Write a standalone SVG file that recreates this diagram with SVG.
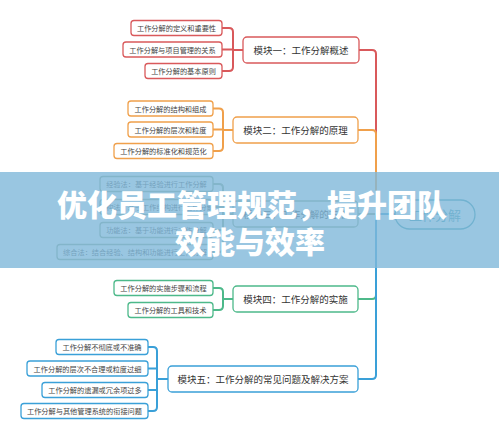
<svg xmlns="http://www.w3.org/2000/svg" width="499" height="440" viewBox="0 0 499 440">
<style>
.leaf rect{fill:#fff;stroke-width:1.3}
.leaf text{font-family:"Noto Sans CJK SC",sans-serif;font-size:7.2px;fill:#444;text-anchor:middle;dominant-baseline:central}
.mod rect{fill:#fff;stroke-width:1.3}
.mod text{font-family:"Noto Sans CJK SC",sans-serif;font-size:9.5px;fill:#333;text-anchor:middle;dominant-baseline:central}
.c{fill:none;stroke-width:2;stroke-linejoin:round}
.r{stroke:#d9595b}.o{stroke:#f0a04b}.g3{stroke:#8fa88a}.g{stroke:#4db98a}.b{stroke:#3aa0d8}
</style>
<rect width="499" height="440" fill="#fff"/>
<g id="connectors">
<!-- trunk -->
<path class="c r" d="M395 214 H380 Q376 214 376 210 V54 Q376 50 372 50 H359"/>
<path class="c o" d="M395 214 H380 Q376 214 376 210 V134 Q376 130 372 130 H358"/>
<path class="c g3" d="M395 214 H358"/>
<path class="c g" d="M395 214 H380 Q376 214 376 218 V295 Q376 299 372 299 H358"/>
<path class="c b" d="M395 214 H380 Q376 214 376 218 V375 Q376 379 372 379 H358"/>
<!-- module 1 -->
<path class="c r" d="M243 50 H233 M222 28 H229 Q233 28 233 32 V67 Q233 71 229 71 H222 M222 49.5 H233"/>
<!-- module 2 -->
<path class="c o" d="M233 130 H223 M213 108.5 H219 Q223 108.5 223 112.5 V147 Q223 151 219 151 H213 M213 129.5 H223"/>
<!-- module 3 -->
<path class="c g3" d="M233 214 H223 M213 184 H219 Q223 184 223 188 V248 Q223 252 219 252 H213 M213 207 H223 M213 230 H223"/>
<!-- module 4 -->
<path class="c g" d="M233 299 H223 M213 288 H219 Q223 288 223 292 V306 Q223 310 219 310 H213"/>
<!-- module 5 -->
<path class="c b" d="M168 379 H157 M148 347 H153 Q157 347 157 351 V407 Q157 411 153 411 H148 M148 368.5 H157 M148 390 H157"/>
</g>
<g id="root">
<rect x="395" y="200" width="80" height="29" rx="14.5" fill="#fff" stroke="#3a9aa8" stroke-width="1.3"/>
<text x="435" y="214.5" font-family="Noto Sans CJK SC,sans-serif" font-size="13" fill="#3a9aa8" text-anchor="middle" dominant-baseline="central">工作分解</text>
</g>
<g id="module1" class="mod"><rect x="243" y="37" width="116" height="26" rx="4" stroke="#d9595b"/><text x="301" y="50">模块一：工作分解概述</text></g>
<g id="module2" class="mod"><rect x="233" y="117" width="125" height="26" rx="4" stroke="#f0a04b"/><text x="295.5" y="130">模块二：工作分解的原理</text></g>
<g id="module3" class="mod"><rect x="233" y="201" width="125" height="26" rx="4" stroke="#8fa88a"/><text x="295.5" y="214">模块三：工作分解的方法</text></g>
<g id="module4" class="mod"><rect x="233" y="286" width="125" height="26" rx="4" stroke="#4db98a"/><text x="295.5" y="299">模块四：工作分解的实施</text></g>
<g id="module5" class="mod"><rect x="168" y="366" width="190" height="26" rx="4" stroke="#3aa0d8"/><text x="263" y="379">模块五：工作分解的常见问题及解决方案</text></g>

<g id="l1a" class="leaf"><rect x="131" y="20.5" width="91" height="15" rx="3" stroke="#d9595b"/><text x="176.5" y="28">工作分解的定义和重要性</text></g>
<g id="l1b" class="leaf"><rect x="123" y="42" width="99" height="15" rx="3" stroke="#d9595b"/><text x="172.5" y="49.5">工作分解与项目管理的关系</text></g>
<g id="l1c" class="leaf"><rect x="145" y="63.5" width="77" height="15" rx="3" stroke="#d9595b"/><text x="183.5" y="71">工作分解的基本原则</text></g>

<g id="l2a" class="leaf"><rect x="128" y="101" width="85" height="15" rx="3" stroke="#f0a04b"/><text x="170.5" y="108.5">工作分解的结构和组成</text></g>
<g id="l2b" class="leaf"><rect x="128" y="122" width="85" height="15" rx="3" stroke="#f0a04b"/><text x="170.5" y="129.5">工作分解的层次和粒度</text></g>
<g id="l2c" class="leaf"><rect x="114" y="143.5" width="99" height="15" rx="3" stroke="#f0a04b"/><text x="163.5" y="151">工作分解的标准化和规范化</text></g>

<g id="l3a" class="leaf"><rect x="100" y="176.5" width="113" height="15" rx="3" stroke="#8fa88a"/><text x="156.5" y="184">经验法：基于经验进行工作分解</text></g>
<g id="l3b" class="leaf"><rect x="100" y="199.5" width="113" height="15" rx="3" stroke="#8fa88a"/><text x="156.5" y="207">结构法：基于工作结构进行工作分解</text></g>
<g id="l3c" class="leaf"><rect x="100" y="222.5" width="113" height="15" rx="3" stroke="#8fa88a"/><text x="156.5" y="230">功能法：基于功能进行工作分解</text></g>
<g id="l3d" class="leaf"><rect x="57" y="244.5" width="156" height="15" rx="3" stroke="#8fa88a"/><text x="135" y="252">综合法：结合经验、结构和功能进行工作分解</text></g>

<g id="l4a" class="leaf"><rect x="114" y="280.5" width="99" height="15" rx="3" stroke="#4db98a"/><text x="163.5" y="288">工作分解的实施步骤和流程</text></g>
<g id="l4b" class="leaf"><rect x="128" y="302.5" width="85" height="15" rx="3" stroke="#4db98a"/><text x="170.5" y="310">工作分解的工具和技术</text></g>

<g id="l5a" class="leaf"><rect x="56" y="339.5" width="92" height="15" rx="3" stroke="#3aa0d8"/><text x="102" y="347">工作分解不彻底或不准确</text></g>
<g id="l5b" class="leaf"><rect x="27" y="361" width="121" height="15" rx="3" stroke="#3aa0d8"/><text x="87.5" y="368.5">工作分解的层次不合理或粒度过细</text></g>
<g id="l5c" class="leaf"><rect x="42" y="382.5" width="106" height="15" rx="3" stroke="#3aa0d8"/><text x="95" y="390">工作分解的遗漏或冗余项过多</text></g>
<g id="l5d" class="leaf"><rect x="21" y="403.5" width="127" height="15" rx="3" stroke="#3aa0d8"/><text x="84.5" y="411">工作分解与其他管理系统的衔接问题</text></g>

<g id="banner">
<rect x="0" y="172" width="499" height="96" fill="#7fb8da" fill-opacity="0.8"/>
<text x="252" y="216" font-family="Noto Sans CJK SC,sans-serif" font-size="30" font-weight="900" fill="#fff" text-anchor="middle">优化员工管理规范，提升团队</text>
<text x="250" y="253" font-family="Noto Sans CJK SC,sans-serif" font-size="30" font-weight="900" fill="#fff" text-anchor="middle">效能与效率</text>
</g>
</svg>
